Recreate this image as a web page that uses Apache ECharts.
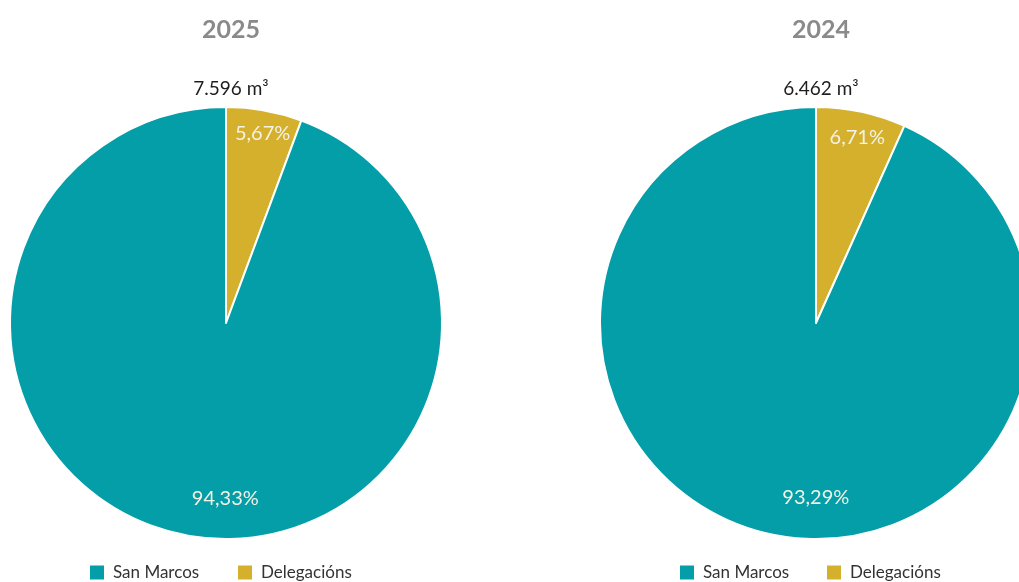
<!DOCTYPE html>
<html>
<head>
<meta charset="utf-8">
<script src="https://cdn.jsdelivr.net/npm/echarts@6/dist/echarts.min.js"></script>
<style>
  html, body { margin: 0; padding: 0; background: #ffffff; }
  #chart { width: 1019px; height: 582px; }
</style>
</head>
<body>
<div id="chart"></div>
<script>
// Water volume split by origin, per year
const years = ['2025', '2024'];
const totals = ['7.596 m³', '6.462 m³'];
const categories = ['Delegacións', 'San Marcos'];
const shares2025 = [5.67, 94.33];
const shares2024 = [6.71, 93.29];
const legendOrder = ['San Marcos', 'Delegacións'];

const colors = { 'San Marcos': '#039ea7', 'Delegacións': '#d5b02c' };
const FONT = 'Lato, "Noto Sans", sans-serif';

const fmt = v => v.toFixed(2).replace('.', ',') + '%';

// label nudges: small slice near the rim, large slice near the bottom
const labelOffsets = [
  { 'Delegacións': [17, -80], 'San Marcos': [19, 66] },
  { 'Delegacións': [18, -77], 'San Marcos': [23, 66] }
];

const centersX = [226, 816];
const shareSets = [shares2025, shares2024];

const series = shareSets.map((vals, i) => ({
  type: 'pie',
  name: years[i],
  center: [centersX[i], 323],
  radius: 216,
  startAngle: 90,
  clockwise: true,
  avoidLabelOverlap: false,
  itemStyle: { borderColor: '#ffffff', borderWidth: 2 },
  emphasis: { disabled: true },
  label: {
    show: true,
    position: 'inside',
    color: '#f4f1e6',
    fontFamily: FONT,
    fontSize: 20,
    formatter: p => fmt(p.value)
  },
  labelLine: { show: false },
  data: categories.map((c, k) => ({
    name: c,
    value: vals[k],
    itemStyle: { color: colors[c] },
    label: { offset: labelOffsets[i][c] }
  }))
}));

const titles = [];
years.forEach((y, i) => {
  titles.push({
    text: y,
    left: centersX[i],
    top: 12,
    textAlign: 'center',
    textStyle: { fontFamily: FONT, fontSize: 25, fontWeight: 'bold', color: '#8a8a8a' }
  });
  titles.push({
    text: totals[i],
    left: centersX[i],
    top: 74,
    textAlign: 'center',
    textStyle: { fontFamily: FONT, fontSize: 19, fontWeight: 'normal', color: '#1e1e1e' }
  });
});

// one legend entry per box so each swatch sits where it belongs
const legendSpots = [
  { left: 90, name: 'San Marcos' },
  { left: 238, name: 'Delegacións' },
  { left: 680, name: 'San Marcos' },
  { left: 827, name: 'Delegacións' }
];
const legends = legendSpots.map(s => ({
  left: s.left,
  top: 564,
  padding: 0,
  orient: 'horizontal',
  icon: 'rect',
  itemWidth: 14,
  itemHeight: 14,
  itemGap: 0,
  itemStyle: { borderWidth: 0 },
  data: [s.name],
  selectedMode: false,
  textStyle: { fontFamily: FONT, fontSize: 17, color: '#333333', padding: [0, 0, 0, 4] }
}));

const chart = echarts.init(document.getElementById('chart'), null, { renderer: 'canvas' });
chart.setOption({
  backgroundColor: '#ffffff',
  animation: false,
  title: titles,
  legend: legends,
  series: series
});
</script>
</body>
</html>
